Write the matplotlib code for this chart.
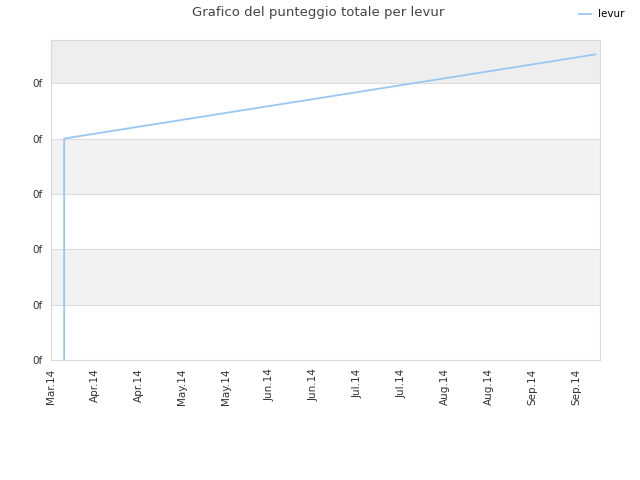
import matplotlib
matplotlib.use("Agg")
import matplotlib.pyplot as plt

# days since start of axis, cumulative score
days = [4.5, 4.5, 186.5]
score = [0, 4.0, 5.52]
tick_days = [15 * i for i in range(13)]
tick_labels = ["Mar.14", "Apr.14", "Apr.14", "May.14", "May.14", "Jun.14", "Jun.14",
               "Jul.14", "Jul.14", "Aug.14", "Aug.14", "Sep.14", "Sep.14"]
y_ticks = [0, 1, 2, 3, 4, 5]

fig = plt.figure(figsize=(6.4, 4.8), dpi=100)
ax = fig.add_axes([0.0797, 0.25, 0.8578, 0.6667])

ax.set_xlim(0, 188)
ax.set_ylim(0, 5.78)

# alternating bands
bands = [(1, 2), (3, 4), (5, 5.78)]
for lo, hi in bands:
    ax.axhspan(lo, hi, color="#f2f2f2" if hi < 5.5 else "#eeeeee", zorder=0, lw=0)

ax.plot(days, score, color="#99c7f4", lw=1.3, label="levur", zorder=3)

ax.set_yticks(y_ticks)
ax.set_yticklabels(["0f"] * len(y_ticks))
ax.set_xticks(tick_days)
ax.set_xticklabels(tick_labels, rotation=90)
ax.tick_params(axis="both", length=0, labelsize=7.5, colors="#333333", pad=6)
ax.grid(axis="y", color="#dddddd", lw=0.8, zorder=1)
ax.set_axisbelow(True)
for s in ax.spines.values():
    s.set_color("#d9d9d9")
    s.set_linewidth(0.8)

fig.text(0.497, 0.988, "Grafico del punteggio totale per levur", ha="center", va="top",
         fontsize=9.5, color="#444444")
fig.legend(loc="upper right", bbox_to_anchor=(0.99, 1.0), frameon=False, fontsize=7.5,
           handlelength=1.2, handletextpad=0.6)

fig.savefig("out.png", dpi=100)
